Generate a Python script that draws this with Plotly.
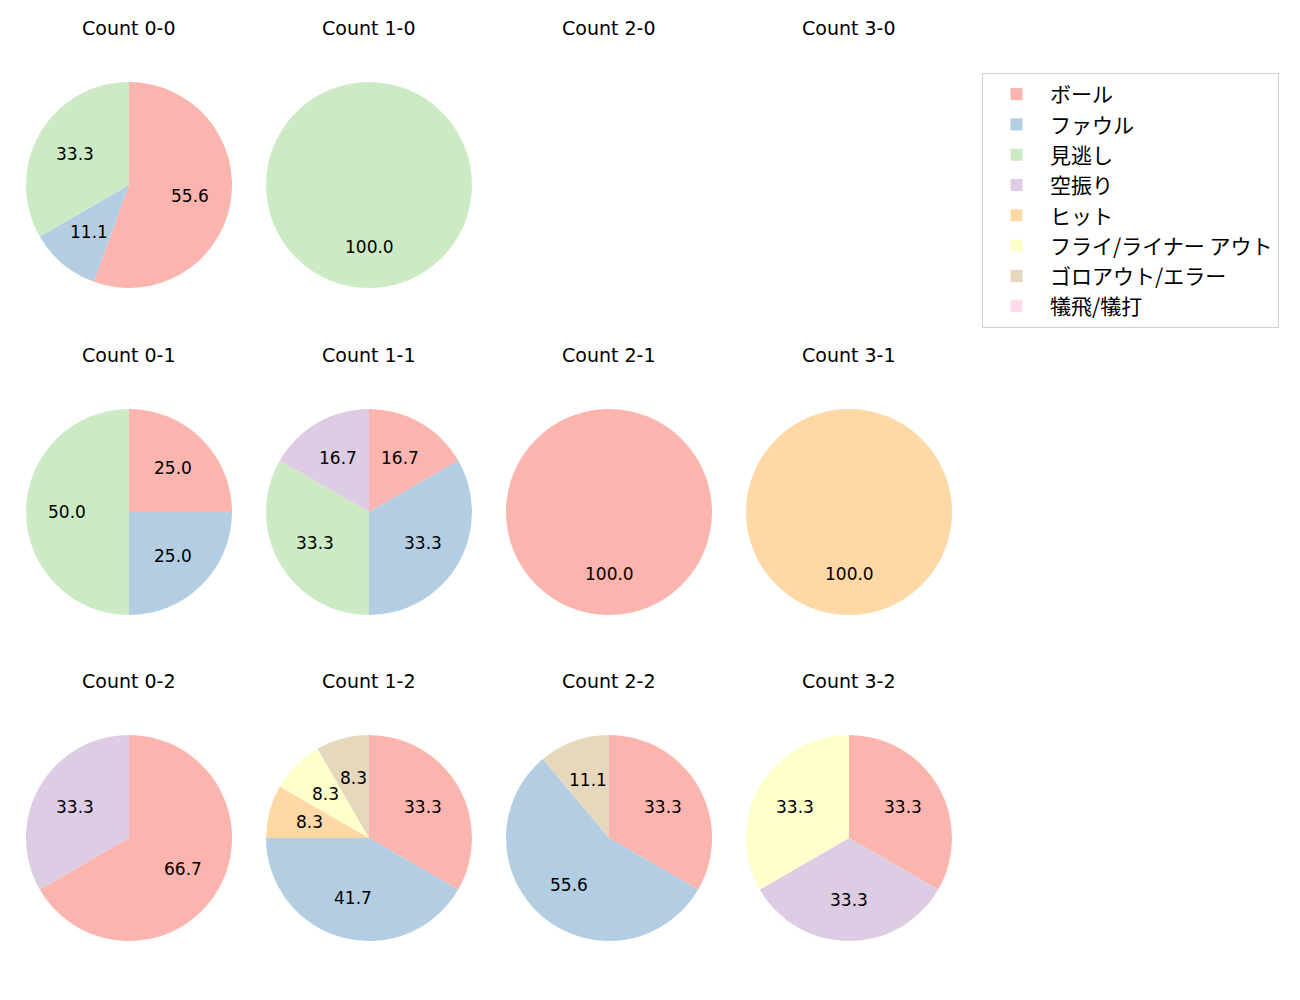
import math
import plotly.graph_objects as go

categories = ["ボール", "ファウル", "見逃し", "空振り", "ヒット",
              "フライ/ライナー アウト", "ゴロアウト/エラー", "犠飛/犠打"]
colors = ["#fbb4ae", "#b3cde3", "#ccebc5", "#decbe4", "#fed9a6",
          "#ffffcc", "#e5d8bd", "#fddaec"]

# counts per category (order as categories), keyed by "balls-strikes"
count_00 = [5, 1, 3, 0, 0, 0, 0, 0]
count_10 = [0, 0, 1, 0, 0, 0, 0, 0]
count_20 = [0, 0, 0, 0, 0, 0, 0, 0]
count_30 = [0, 0, 0, 0, 0, 0, 0, 0]
count_01 = [1, 1, 2, 0, 0, 0, 0, 0]
count_11 = [1, 2, 2, 1, 0, 0, 0, 0]
count_21 = [1, 0, 0, 0, 0, 0, 0, 0]
count_31 = [0, 0, 0, 0, 1, 0, 0, 0]
count_02 = [2, 0, 0, 1, 0, 0, 0, 0]
count_12 = [4, 5, 0, 0, 1, 1, 1, 0]
count_22 = [3, 5, 0, 0, 0, 0, 1, 0]
count_32 = [1, 0, 0, 1, 0, 1, 0, 0]

grid = [
    [("0-0", count_00), ("1-0", count_10), ("2-0", count_20), ("3-0", count_30)],
    [("0-1", count_01), ("1-1", count_11), ("2-1", count_21), ("3-1", count_31)],
    [("0-2", count_02), ("1-2", count_12), ("2-2", count_22), ("3-2", count_32)],
]

W, H = 1300, 1000
col_cx = [129, 369, 609, 849]
row_cy = [185, 512, 838]
R = 103
LATIN = "DejaVu Sans, Noto Sans CJK JP, sans-serif"
CJK = "Noto Sans CJK JP, sans-serif"

fig = go.Figure()
annotations = []
first = True
for r, row in enumerate(grid):
    for c, (name, vals) in enumerate(row):
        cx, cy = col_cx[c], row_cy[r]
        annotations.append(dict(
            text=f"Count {name}", x=cx / W, y=1 - (cy - 157) / H,
            xref="paper", yref="paper",
            showarrow=False, font=dict(size=19, color="#000000", family=LATIN),
            xanchor="center", yanchor="middle"))
        total = sum(vals)
        if total == 0:
            continue
        fig.add_trace(go.Pie(
            labels=categories, values=vals, sort=False, direction="clockwise",
            rotation=0, marker=dict(colors=colors, line=dict(width=0)),
            textinfo="none", hoverinfo="label+percent",
            domain=dict(x=[(cx - R) / W, (cx + R) / W],
                        y=[1 - (cy + R) / H, 1 - (cy - R) / H]),
            showlegend=first,
        ))
        first = False
        cum = 0.0
        for v in vals:
            if v <= 0:
                continue
            frac = v / total
            theta = math.radians(90 - 360 * (cum + frac / 2))
            cum += frac
            tx = cx + 0.6 * R * math.cos(theta)
            ty = cy - 0.6 * R * math.sin(theta)
            annotations.append(dict(
                text=f"{100 * frac:.1f}", x=tx / W, y=1 - ty / H,
                xref="paper", yref="paper", showarrow=False,
                font=dict(size=17, color="#000000", family=LATIN),
                xanchor="center", yanchor="middle"))

fig.update_layout(
    width=W, height=H, paper_bgcolor="white", plot_bgcolor="white",
    margin=dict(l=0, r=0, t=0, b=0),
    annotations=annotations,
    legend=dict(x=982 / W, y=1 - 73 / H, xanchor="left", yanchor="top",
                bgcolor="white", bordercolor="#d0d0d0", borderwidth=1,
                font=dict(size=21, family=CJK, color="#000000"),
                itemwidth=57, traceorder="normal"),
    font=dict(family=LATIN),
)

fig.write_html("out.html", config={"displayModeBar": False},
               post_script="document.body.style.margin='0px';")
